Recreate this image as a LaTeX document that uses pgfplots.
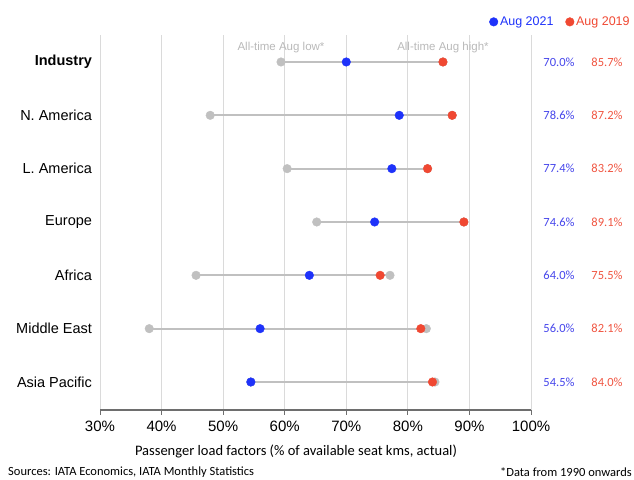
\documentclass[border=0pt]{standalone}
\usepackage{fontspec}
\setmainfont{Liberation Sans}
\newfontfamily\carlito{Carlito}
\usepackage{pgfplots}
\usepackage{pgfplotstable}
\pgfplotsset{compat=1.18}

\definecolor{blue21}{RGB}{30,50,250}
\definecolor{red19}{RGB}{240,72,50}
\definecolor{dotgray}{RGB}{192,192,192}
\definecolor{gridgray}{RGB}{218,218,218}
\definecolor{axisgray}{RGB}{110,110,110}
\definecolor{bluetxt}{RGB}{70,70,235}
\definecolor{redtxt}{RGB}{240,85,65}
\definecolor{labgray}{RGB}{185,185,185}

% row: 6 = Industry (top) ... 0 = Asia Pacific (bottom)
\pgfplotstableread{
row lo   hi   aug21 aug19
6   59.4 85.7 70.0  85.7
5   47.9 87.2 78.6  87.2
4   60.4 83.2 77.4  83.2
3   65.2 89.1 74.6  89.1
2   45.6 77.1 64.0  75.5
1   38.0 83.0 56.0  82.1
0   54.5 84.4 54.5  84.0
}\loaddata

\begin{document}
\begin{tikzpicture}
\useasboundingbox (0,0) rectangle (634pt,479pt);
\begin{axis}[
    at={(100pt,69pt)}, anchor=south west,
    scale only axis, width=431pt, height=375pt,
    xmin=30, xmax=100, ymin=-0.525, ymax=6.506,
    clip=false,
    axis lines*=left,
    x axis line style={-, draw=axisgray, line width=1.3pt},
    y axis line style={draw=none},
    xtick={30,40,...,100},
    xticklabels={30\%,40\%,50\%,60\%,70\%,80\%,90\%,100\%},
    xmajorgrids, grid style={gridgray, line width=0.9pt},
    tick align=outside, major tick length=4.5pt,
    xtick style={draw=axisgray, line width=1pt},
    xticklabel style={font=\fontsize{15}{17}\selectfont, yshift=-3pt},
    ytick={0,...,6},
    yticklabels={Asia Pacific, Middle East, Africa, Europe, L. America, N. America, \textbf{Industry}},
    ytick style={draw=none},
    yticklabel style={font=\fontsize{14.5}{17}\selectfont},
    legend columns=2,
    legend style={at={(axis description cs:1.234,1.035)}, anchor=east,
        draw=none, fill=none, inner sep=0pt,
        font=\fontsize{12.5}{14}\selectfont,
        /tikz/every even column/.append style={column sep=10pt},
        nodes={inner xsep=2pt}},
    legend image code/.code={\draw[#1] plot coordinates {(0pt,0pt)};},
]
% range line from all-time low to all-time high
\addplot[forget plot, draw=none, mark=none,
    error bars/.cd, x dir=plus, x explicit, error mark=none,
    error bar style={draw=dotgray, line width=2pt}]
    table[x=lo, y=row, x error expr=\thisrow{hi}-\thisrow{lo}] {\loaddata};
\addplot[forget plot, only marks, mark=*, mark size=4.3pt, mark options={draw=dotgray, fill=dotgray}]
    table[x=lo, y=row] {\loaddata};
\addplot[forget plot, only marks, mark=*, mark size=4.3pt, mark options={draw=dotgray, fill=dotgray}]
    table[x=hi, y=row] {\loaddata};
\addplot[only marks, mark=*, mark size=4.3pt, mark options={draw=blue21, fill=blue21}]
    table[x=aug21, y=row] {\loaddata};
\addlegendentry{\textcolor{blue21}{Aug 2021}}
\addplot[only marks, mark=*, mark size=4.3pt, mark options={draw=red19, fill=red19}]
    table[x=aug19, y=row] {\loaddata};
\addlegendentry{\textcolor{red19}{Aug 2019}}
% value columns on the right
\addplot[forget plot, draw=none, mark=none, point meta=explicit,
    nodes near coords={\pgfmathprintnumber[fixed, fixed zerofill, precision=1, assume math mode=true]{\pgfplotspointmeta}\%},
    nodes near coords style={anchor=center, font=\carlito\fontsize{12.5}{14}\selectfont, text=bluetxt}]
    table[x expr=104.55, y=row, meta=aug21] {\loaddata};
\addplot[forget plot, draw=none, mark=none, point meta=explicit,
    nodes near coords={\pgfmathprintnumber[fixed, fixed zerofill, precision=1, assume math mode=true]{\pgfplotspointmeta}\%},
    nodes near coords style={anchor=center, font=\carlito\fontsize{12.5}{14}\selectfont, text=redtxt}]
    table[x expr=112.35, y=row, meta=aug19] {\loaddata};
\node[text=labgray, font=\fontsize{11.5}{13}\selectfont] at (axis cs:59.4,6.27) {All-time Aug low*};
\node[text=labgray, font=\fontsize{11.5}{13}\selectfont] at (axis cs:85.7,6.27) {All-time Aug high*};
\end{axis}
\node[font=\carlito\fontsize{14.5}{16}\selectfont] at (296pt,28pt) {Passenger load factors (\% of available seat kms, actual)};
\node[anchor=west, inner sep=0pt, font=\carlito\fontsize{12.5}{14}\selectfont] at (8pt,7pt) {Sources: IATA Economics, IATA Monthly Statistics};
\node[anchor=east, inner sep=0pt, font=\carlito\fontsize{12.5}{14}\selectfont] at (632pt,7pt) {*Data from 1990 onwards};
\end{tikzpicture}
\end{document}
